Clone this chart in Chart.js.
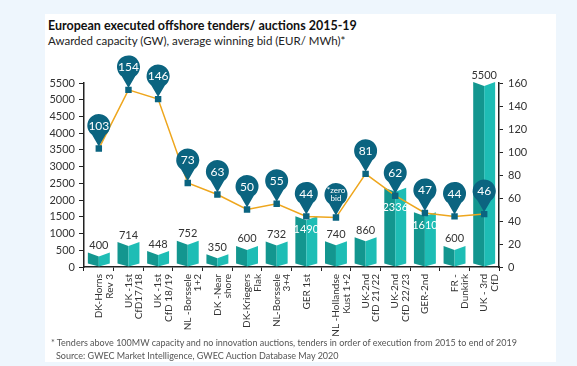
<!DOCTYPE html>
<html>
<head>
<meta charset="utf-8">
<script src="https://cdn.jsdelivr.net/npm/chart.js@4/dist/chart.umd.min.js"></script>
<style>
  body { margin: 0; background: #eef6fd; font-family: Lato, sans-serif; }
  #panel { position: absolute; left: 45px; top: 14px; width: 511px; height: 348px; background: #fff; }
  #title { position: absolute; left: 48px; top: 18px; font-size: 12.5px; font-weight: bold; color: #111; white-space: nowrap; }
  #subtitle { position: absolute; left: 48px; top: 34px; font-size: 11.5px; color: #222; white-space: nowrap; }
  #wrap { position: absolute; left: 45px; top: 50px; width: 511px; height: 290px; }
  .note { position: absolute; left: 51px; font-size: 9px; color: #555; white-space: nowrap; }
</style>
</head>
<body>
<div id="panel"></div>
<div id="title">European executed offshore tenders/ auctions 2015-19</div>
<div id="subtitle">Awarded capacity (GW), average winning bid (EUR/ MWh)*</div>
<div id="wrap"><canvas id="chart" width="511" height="290"></canvas></div>
<div class="note" style="top:337px">* Tenders above 100MW capacity and no innovation auctions, tenders in order of execution from 2015 to end of 2019</div>
<div class="note" style="top:350px; left:56px">Source: GWEC Market Intelligence, GWEC Auction Database May 2020</div>
<script>
// 数据
const tenders = [
    ['DK-Horns', 'Rev 3'], ['UK -1st', 'CfD17/18'], ['UK -1st', 'CfD 18/19'], ['NL -Borssele', '1+2'],
    ['DK -Near', 'shore'], ['DK-Kriegers', 'Flak'], ['NL-Borssele', '3+4'], 'GER 1st',
    ['NL -Hollandse', 'Kust 1+2'], ['UK-2nd', 'CfD 21/22'], ['UK-2nd', 'CfD 22/23'], 'GER-2nd',
    ['FR -', 'Dunkirk'], ['UK - 3rd', 'CfD']
];
const capacity = [400, 714, 448, 752, 350, 600, 732, 1490, 740, 860, 2336, 1610, 600, 5500];
const bids = [103, 154, 146, 73, 63, 50, 55, 44, 43, 81, 62, 47, 44, 46];
const bidLabels = ['103', '154', '146', '73', '63', '50', '55', '44', '*zero\nbid', '81', '62', '47', '44', '46'];
const capacityTicks = [0, 500, 1000, 1500, 2000, 2500, 3000, 3500, 4000, 4500, 5000, 5500];
const bidTicks = [0, 20, 40, 60, 80, 100, 120, 140, 160];

const FONT = 'Lato, sans-serif';
const TEAL_DARK = '#13968f';
const TEAL_LIGHT = '#1ebdb5';
const PIN = '#0b6480';

// 书本形状的柱子
const bookBars = {
    id: 'bookBars',
    beforeDatasetsDraw(chart) {
        const ctx = chart.ctx;
        chart.getDatasetMeta(0).data.forEach(el => {
            const x = el.x, y = el.y, b = el.base, w = el.width / 2;
            ctx.fillStyle = TEAL_DARK;
            ctx.beginPath();
            ctx.moveTo(x - w, y - 1);
            ctx.lineTo(x, y + 3);
            ctx.lineTo(x, b);
            ctx.lineTo(x - w, b - 3);
            ctx.closePath();
            ctx.fill();
            ctx.fillStyle = TEAL_LIGHT;
            ctx.beginPath();
            ctx.moveTo(x, y + 3);
            ctx.lineTo(x + w, y - 1);
            ctx.lineTo(x + w, b - 3);
            ctx.lineTo(x, b);
            ctx.closePath();
            ctx.fill();
        });
    },
    afterDatasetsDraw(chart) {
        const ctx = chart.ctx;
        const bars = chart.getDatasetMeta(0).data;
        const pts = chart.getDatasetMeta(1).data;
        ctx.save();
        ctx.textAlign = 'center';
        ctx.textBaseline = 'middle';
        // 柱子数值
        bars.forEach((el, i) => {
            const py = pts[i].y;
            ctx.font = '11px ' + FONT;
            if (Math.abs(el.y - py) < 20) {
                ctx.fillStyle = '#fff';
                ctx.fillText(String(capacity[i]), el.x, Math.max(el.y, py) + 12);
            } else {
                ctx.fillStyle = '#333';
                ctx.fillText(String(capacity[i]), el.x, el.y - 8);
            }
        });
        // 气球标记
        pts.forEach((p, i) => {
            const cx = p.x, cy = p.y - 23, r = 11.5;
            ctx.fillStyle = PIN;
            ctx.beginPath();
            ctx.arc(cx, cy, r, 0.3 * Math.PI, 0.7 * Math.PI, true);
            ctx.lineTo(cx, p.y - 2);
            ctx.closePath();
            ctx.fill();
            ctx.fillStyle = '#fff';
            const lines = bidLabels[i].split('\n');
            if (lines.length > 1) {
                ctx.font = '8px ' + FONT;
                ctx.fillText(lines[0], cx, cy - 4);
                ctx.fillText(lines[1], cx, cy + 4);
            } else {
                ctx.font = '12px ' + FONT;
                ctx.fillText(lines[0], cx, cy + 0.5);
            }
        });
        ctx.restore();
    }
};

new Chart(document.getElementById('chart').getContext('2d'), {
    data: {
        labels: tenders,
        datasets: [
            {
                type: 'bar',
                data: capacity,
                backgroundColor: 'rgba(0,0,0,0)',
                barPercentage: 0.74,
                categoryPercentage: 1,
                yAxisID: 'y',
                order: 2
            },
            {
                type: 'line',
                data: bids,
                borderColor: '#eea61d',
                borderWidth: 1.5,
                pointStyle: 'rect',
                pointRadius: 3.5,
                pointBackgroundColor: PIN,
                pointBorderColor: PIN,
                tension: 0,
                yAxisID: 'y1',
                order: 1
            }
        ]
    },
    options: {
        responsive: false,
        animation: false,
        layout: { padding: { top: 33, left: 0, right: 0, bottom: 0 } },
        plugins: {
            legend: { display: false },
            tooltip: { enabled: false }
        },
        scales: {
            x: {
                grid: { drawOnChartArea: false, tickLength: 4, color: '#222' },
                border: { color: '#222', width: 1.5 },
                ticks: {
                    minRotation: 90,
                    maxRotation: 90,
                    autoSkip: false,
                    padding: 3,
                    color: '#333',
                    font: { family: FONT, size: 10, lineHeight: 1.05 }
                },
                afterFit(scale) { scale.height = 73; }
            },
            y: {
                position: 'left',
                min: 0,
                max: 5500,
                afterBuildTicks(scale) { scale.ticks = capacityTicks.map(v => ({ value: v })); },
                grid: { drawOnChartArea: false, tickLength: 5, color: '#222' },
                border: { color: '#222', width: 1.5 },
                ticks: {
                    padding: 4,
                    color: '#333',
                    font: { family: FONT, size: 11 },
                    callback: value => String(value)
                },
                afterFit(scale) { scale.width = 39; }
            },
            y1: {
                position: 'right',
                min: 0,
                max: 160,
                afterBuildTicks(scale) { scale.ticks = bidTicks.map(v => ({ value: v })); },
                grid: { drawOnChartArea: false, tickLength: 4, color: '#222' },
                border: { color: '#222', width: 1.5 },
                ticks: {
                    padding: 5,
                    color: '#333',
                    font: { family: FONT, size: 11 },
                    callback: value => String(value)
                },
                afterFit(scale) { scale.width = 57; }
            }
        }
    },
    plugins: [bookBars]
});
</script>
</body>
</html>
